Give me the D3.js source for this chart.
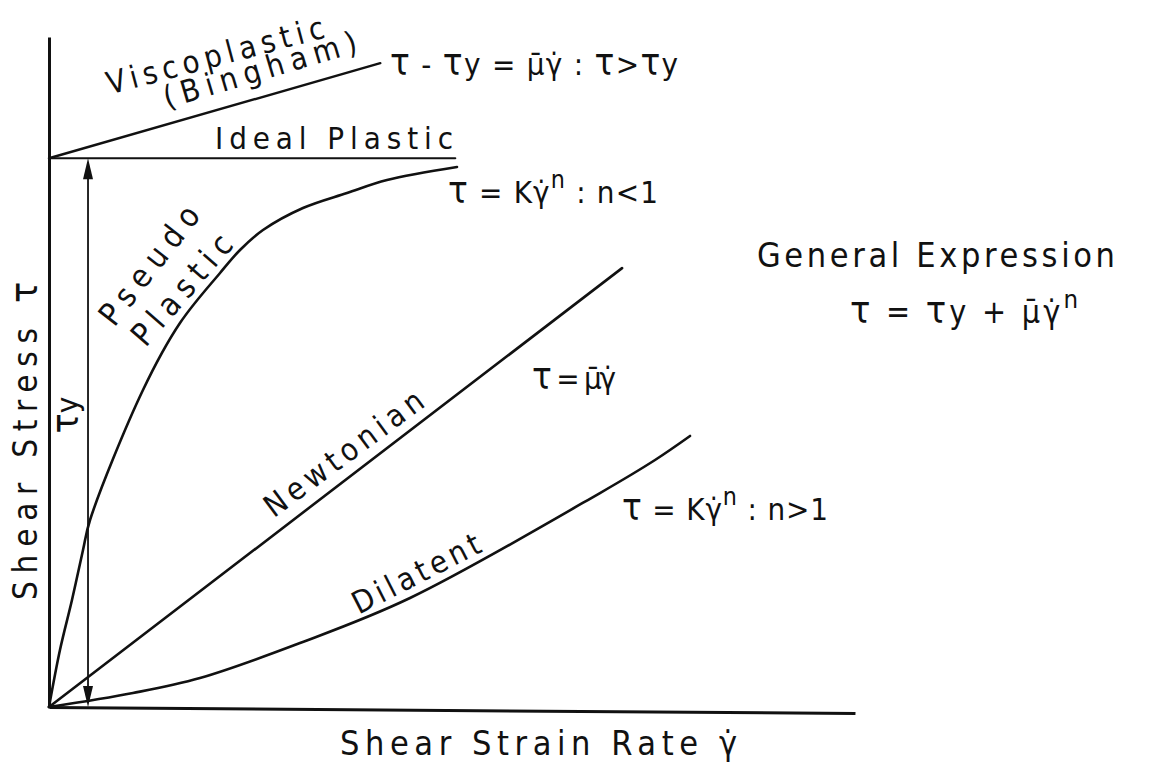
<!DOCTYPE html>
<html><head><meta charset="utf-8">
<script src="https://cdn.jsdelivr.net/npm/d3@7"></script>
<style>
html,body{margin:0;padding:0;background:#fff;}
svg{display:block;}
text{font-family:"DejaVu Sans",sans-serif;font-stretch:condensed;fill:#111;}
</style></head><body>
<svg id="chart" width="1155" height="763"></svg>
<script>
// Flow curves: shear strain rate (x) against shear stress (y), relative units 0-100
const yieldStress = 81.9;
const pseudoRate   = [0, 1.36, 2.85, 4.22, 5.09, 11.66, 16.25, 21.22, 23.70, 26.55, 31.51, 36.97, 41.94, 50.62];
const pseudoStress = [0, 8.51, 15.97, 23.43, 27.91, 47.31, 57.31, 64.78, 68.21, 71.19, 74.48, 76.72, 78.66, 80.60];
const newtonRate   = [0, 71.1];
const newtonStress = [0, 65.5];
const dilatRate    = [0, 10.42, 18.73, 31.14, 44.79, 68.36, 75.19, 79.53];
const dilatStress  = [0, 2.09, 4.33, 9.55, 16.27, 31.94, 36.87, 40.45];
const idealRate    = [0, 50.4];
const idealStress  = [yieldStress, yieldStress];
const binghamRate  = [0, 41.1];
const binghamStress= [yieldStress, 96.1];
const yieldMarkRate = 4.84;

// Text content
const xTitle = [["Shear Strain Rate γ̇", ""]];
const yTitle = [["Shear Stress ", ""], ["τ", "t"]];
const curveNames = ["Viscoplastic", "(Bingham)", "Ideal Plastic", "Pseudo", "Plastic", "Newtonian", "Dilatent"];
const yieldName = [["τ", "t"], ["y", ""]];
const eqBingham = [["τ","t"],[" - ",""],["τ","t"],["y = μ̄γ̇ : ",""],["τ","t"],[">",""],["τ","t"],["y",""]];
const eqPseudo  = [["τ","t"],[" = Kγ̇",""],["n","s"],[" :  n<1",""]];
const eqNewton  = [["τ","t"],[" = μ̄γ̇",""]];
const eqDilat   = [["τ","t"],[" = Kγ̇",""],["n","s"],[" : n>1",""]];
const generalTitle = "General Expression";
const eqGeneral = [["τ","t"],[" = ",""],["τ","t"],["y + μ̄γ̇",""],["n","s"]];

const svg = d3.select("#chart");
const x = d3.scaleLinear().domain([0, 100]).range([49, 855]);
const y = d3.scaleLinear().domain([0, 100]).range([707, 37]);

// axes without ticks
svg.append("g")
  .attr("transform", `translate(0,${y(0)}) rotate(0.43,${x(0)},0)`)
  .call(d3.axisBottom(x).tickValues([]).tickSizeOuter(0));
svg.append("g")
  .attr("transform", `translate(${x(0)},0)`)
  .call(d3.axisLeft(y).tickValues([]).tickSizeOuter(0));
svg.selectAll(".domain").attr("stroke", "#111").attr("stroke-width", 3);

const zip = (a, b) => a.map((v, i) => [v, b[i]]);
const line = d3.line().x(d => x(d[0])).y(d => y(d[1]));
const smooth = d3.line().x(d => x(d[0])).y(d => y(d[1])).curve(d3.curveCatmullRom.alpha(0.5));

function curve(gen, xs, ys, w) {
  svg.append("path").attr("d", gen(zip(xs, ys)))
    .attr("fill", "none").attr("stroke", "#111")
    .attr("stroke-width", w).attr("stroke-linecap", "round");
}
curve(line, binghamRate, binghamStress, 2.4);
curve(line, idealRate, idealStress, 2.2);
curve(smooth, pseudoRate, pseudoStress, 2.6);
curve(line, newtonRate, newtonStress, 2.6);
curve(smooth, dilatRate, dilatStress, 2.6);

// yield stress double arrow
const ax = x(yieldMarkRate), aTop = y(yieldStress), aBot = y(0);
svg.append("line").attr("x1", ax).attr("x2", ax).attr("y1", aTop + 4).attr("y2", aBot - 4)
  .attr("stroke", "#111").attr("stroke-width", 1.8);
svg.append("path").attr("d", `M${ax},${aTop} L${ax - 5},${aTop + 21} L${ax + 5},${aTop + 21} Z`).attr("fill", "#111");
svg.append("path").attr("d", `M${ax},${aBot} L${ax - 5},${aBot - 21} L${ax + 5},${aBot - 21} Z`).attr("fill", "#111");

// text helper: parts of [string, kind]; kind "t" = tall tau, "s" = superscript
function write(parts, o) {
  const t = svg.append("text")
    .attr("transform", `translate(${o.x},${o.y}) rotate(${o.a || 0})`)
    .attr("font-size", o.size)
    .attr("text-anchor", o.anchor || "start");
  if (o.len) t.attr("textLength", o.len).attr("lengthAdjust", o.adj || "spacing");
  let raised = false;
  parts.forEach(([s, k]) => {
    const sp = t.append("tspan").text(s);
    if (k === "t") sp.attr("font-size", "1.18em");
    if (k === "s") { sp.attr("font-size", "0.8em").attr("dy", "-0.6em"); raised = true; }
    else if (raised) { sp.attr("dy", "0.48em"); raised = false; }
  });
  return t;
}

// curve names
write([[curveNames[0], ""]], {x: 218, y: 66, a: -14.8, size: 31, anchor: "middle", len: 224});
write([[curveNames[1], ""]], {x: 263, y: 80, a: -16.5, size: 31, anchor: "middle", len: 200});
write([[curveNames[2], ""]], {x: 215, y: 149, size: 31, len: 238});
write([[curveNames[3], ""]], {x: 158, y: 272, a: -52, size: 32, anchor: "middle", len: 142});
write([[curveNames[4], ""]], {x: 190, y: 297, a: -49, size: 32, anchor: "middle", len: 136});
write([[curveNames[5], ""]], {x: 350, y: 462, a: -36.5, size: 31, anchor: "middle", len: 190});
write([[curveNames[6], ""]], {x: 421, y: 583, a: -27, size: 31, anchor: "middle", len: 140});

// equations
write(eqBingham, {x: 390, y: 75, size: 31, len: 288});
write(eqPseudo,  {x: 448, y: 203, size: 31, len: 210});
write(eqNewton,  {x: 532, y: 389, size: 31, len: 84});
write(eqDilat,   {x: 622, y: 520, size: 31, len: 206});
write([[generalTitle, ""]], {x: 757, y: 267, size: 34, len: 358});
write(eqGeneral, {x: 850, y: 323, size: 32, len: 228});

// yield stress mark
write(yieldName, {x: 78, y: 415, a: -90, size: 31, anchor: "middle"});

// axis titles
write(xTitle, {x: 340, y: 755, size: 34, len: 397});
write(yTitle, {x: 37, y: 600, a: -90, size: 33, len: 318});
</script>
</body></html>
